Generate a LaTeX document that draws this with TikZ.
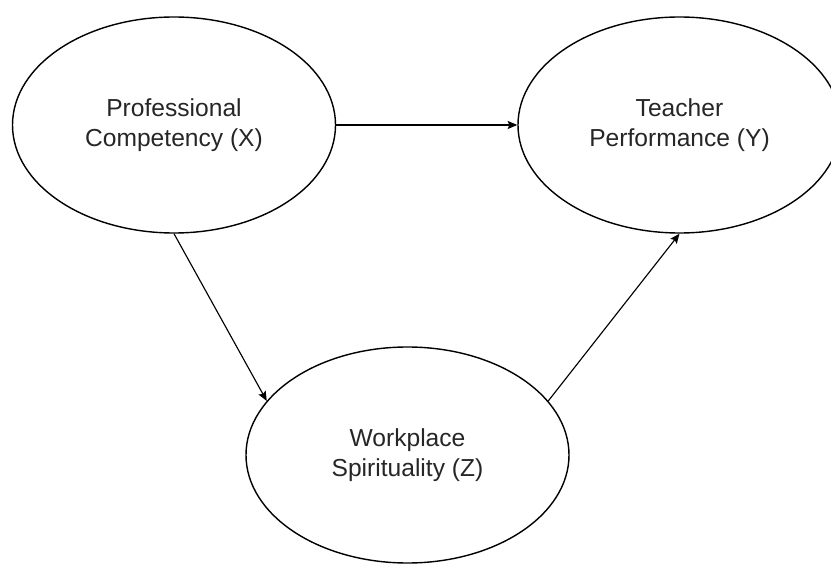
\documentclass[tikz,border=0pt]{standalone}
\usepackage{fontspec}
\setmainfont{Liberation Sans}
\usepackage{tikz}
\usetikzlibrary{shapes.geometric, arrows.meta}

\tikzset{
	construct/.style={ellipse, draw=black, line width=0.8pt, minimum width=6.46cm, minimum height=4.32cm,
		inner sep=0pt, align=center, text=black!85, font=\fontsize{14}{17}\selectfont},
	path/.style={draw=black, line width=0.65pt, -{Stealth[length=5.5pt, width=4.6pt, inset=1pt]}}
}

\begin{document}
\begin{tikzpicture}
	\useasboundingbox (0,0) rectangle (16.62,11.28);
	\clip (0,0) rectangle (16.62,11.28);
	
	% constructs
	\node[construct] (comp) at (3.48, 8.78) {Professional\\Competency (X)};
	\node[construct] (perf) at (13.59, 8.78) {Teacher\\Performance (Y)};
	\node[construct] (spir) at (8.15, 2.18) {Workplace\\Spirituality (Z)};
	
	% paths
	\draw[path] (comp.east) -- (perf.west);
	\draw[path] (comp.south) -- (spir.159);
	\draw[path] (spir.21) -- (perf.south);
\end{tikzpicture}
\end{document}
